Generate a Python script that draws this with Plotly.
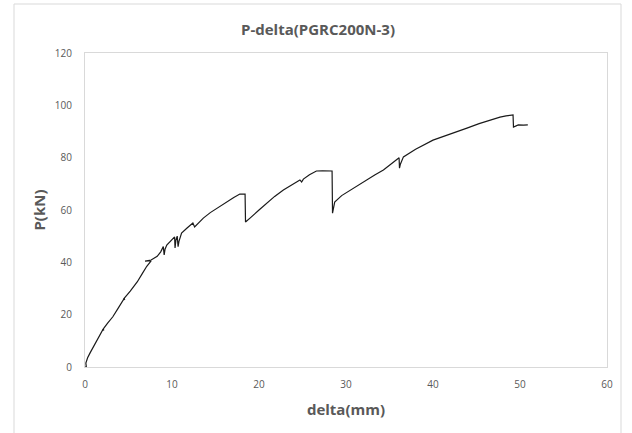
import plotly.graph_objects as go

# Data
delta_mm = [0, 0.15, 0.1, 0.3, 0.6, 1.0, 1.5, 2.0, 2.2, 2.0, 2.6, 3.2, 3.8, 4.4, 4.6, 4.4,
            5.2, 6.0, 6.6, 7.1, 7.6, 6.9, 7.6, 8.3, 8.7, 9.0, 9.1, 9.2, 9.4, 9.8, 10.3,
            10.35, 10.45, 10.6, 10.7, 10.8, 11.1, 11.7, 12.4, 12.6, 13.0, 13.6, 14.4, 15.2,
            16.3, 17.1, 17.8, 18.4, 18.45, 18.6, 19.0, 20.0, 20.9, 21.8, 22.8, 23.8, 24.7,
            24.9, 25.1, 25.8, 26.6, 27.3, 28.4, 28.45, 28.55, 28.7, 29.5, 30.5, 31.4, 32.4,
            33.3, 34.3, 35.2, 36.1, 36.15, 36.25, 36.6, 38.0, 40.0, 42.0, 43.9, 45.3, 46.6,
            47.2, 47.7, 48.4, 49.2, 49.25, 49.8, 50.4, 50.9]
p_kn = [0, 0, 1.5, 3.5, 5.5, 8, 11, 14, 14.3, 14.1, 16.8, 19.2, 22.4, 25.6, 26, 25.8,
        29, 32.5, 35.8, 38.5, 40.6, 40.5, 40.9, 42.3, 44, 46, 42.8, 45, 46.6, 48, 49.7,
        45.5, 48.5, 50, 46, 48, 51.2, 53, 55, 53.5, 55, 56.9, 59, 60.8,
        63.1, 64.8, 66.1, 66.1, 55.4, 55.8, 57, 60, 62.6, 65.2, 67.6, 69.6, 71.5,
        70.7, 71.8, 73.5, 74.9, 75, 74.9, 58.8, 61, 63, 65.5, 67.6, 69.6, 71.5,
        73.4, 75.3, 77.5, 80, 76, 77.5, 80.3, 83.2, 86.7, 89.2, 91.3, 93, 94.4,
        95.2, 95.5, 96, 96.3, 91.7, 92.5, 92.4, 92.5]

x_ticks = [0, 10, 20, 30, 40, 50, 60]
y_ticks = [0, 20, 40, 60, 80, 100, 120]

FONT = "Open Sans, Liberation Sans, sans-serif"
GRAY = "#595959"
BORDER = "#d9d9d9"

fig = go.Figure()
fig.add_trace(go.Scatter(x=delta_mm, y=p_kn, mode="lines",
                         line=dict(color="#1a1a1a", width=1.2),
                         showlegend=False, hoverinfo="skip"))

L, R, T, B = 85, 25, 53, 66
W, H = 632, 433
pw, ph = W - L - R, H - T - B

def px_x(px):
    return (px - L) / pw

def px_y(py):
    return (H - B - py) / ph

fig.update_layout(
    width=W, height=H,
    margin=dict(l=L, r=R, t=T, b=B, autoexpand=False),
    paper_bgcolor="white", plot_bgcolor="white",
    font=dict(family=FONT, color=GRAY),
    title=dict(text="<b>P-delta(PGRC200N-3)</b>", x=px_x(318), xref="paper",
               xanchor="center", y=1 - 30 / H, yanchor="middle",
               font=dict(size=15, color=GRAY, family=FONT)),
    xaxis=dict(range=[0, 60], tickvals=x_ticks, ticks="", showgrid=False,
               zeroline=False, showline=True, linecolor=BORDER, linewidth=1,
               mirror=True, tickfont=dict(size=10, color=GRAY),
               ticklabelstandoff=8, automargin=False,
               title=dict(text="<b>delta(mm)</b>", font=dict(size=15, color=GRAY),
                          standoff=14)),
    yaxis=dict(range=[0, 120], tickvals=y_ticks, ticks="", showgrid=False,
               zeroline=False, showline=True, linecolor=BORDER, linewidth=1,
               mirror=True, tickfont=dict(size=10, color=GRAY),
               ticklabelstandoff=10, automargin=False,
               title=dict(text="<b>P(kN)</b>", font=dict(size=15, color=GRAY),
                          standoff=5)),
    shapes=[dict(type="rect", xref="paper", yref="paper",
                 x0=px_x(14), x1=px_x(621), y0=px_y(445), y1=px_y(4),
                 line=dict(color=BORDER, width=1), fillcolor="rgba(0,0,0,0)",
                 layer="above")],
)

fig.write_html("out.html", config={"displayModeBar": False},
               post_script="document.body.style.margin='0px';")
